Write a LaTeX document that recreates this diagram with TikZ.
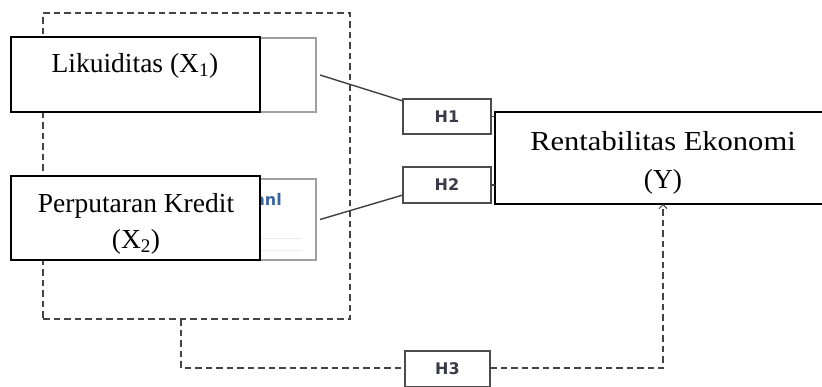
\documentclass[tikz,border=0pt]{standalone}
\usepackage{fontspec}
\setmainfont{Liberation Serif}
\newfontfamily\hfont{DejaVu Sans}
\usetikzlibrary{arrows.meta}
\definecolor{dashgray}{HTML}{444444}
\definecolor{hgray}{HTML}{3A3A48}
\definecolor{anlblue}{HTML}{3A64A0}
\begin{document}
\begin{tikzpicture}[x=1pt,y=-1pt,
  mainbox/.style={draw=black, line width=1.8pt, fill=white, inner sep=0pt, outer sep=0pt},
  ghost/.style={draw=gray!75, line width=1.1pt, fill=white, inner sep=0pt, outer sep=0pt},
  hbox/.style={draw=gray!60!black, line width=1.1pt, fill=white, inner sep=0pt, outer sep=0pt,
    minimum width=87pt, minimum height=35pt,
    font=\hfont\bfseries\fontsize{16}{18}\selectfont, text=hgray},
  grpline/.style={draw=dashgray, line width=1.7pt, dash pattern=on 6.5pt off 4pt},
  link/.style={draw=black!75, line width=1.4pt},
  lbl/.style={font=\fontsize{27.5}{33}\selectfont, inner sep=0pt, anchor=base}]
\clip (0,0) rectangle (822,386);
% dashed group
\node[grpline, minimum width=307pt, minimum height=306pt, inner sep=0pt, outer sep=0pt] (grp) at (196.5,166) {};
% ghost boxes behind
\node[ghost, minimum width=238pt, minimum height=74pt] (g1) at (197,75) {};
\node[ghost, minimum width=238pt, minimum height=81pt] (g2) at (197,219.5) {};
\draw[gray!15, line width=0.6pt] (260,238) -- (302,238);
\draw[gray!15, line width=0.6pt] (260,250) -- (302,250);
\node[anchor=base east, inner sep=0pt, text=anlblue, font=\hfont\bfseries\fontsize{16}{18}\selectfont] (anl) at (282,205) {anl};
% main boxes
\node[mainbox, minimum width=249pt, minimum height=75pt] (x1) at (135.5,74.5) {};
\node[mainbox, minimum width=249pt, minimum height=84pt] (x2) at (135.5,218) {};
\node[mainbox, minimum width=336pt, minimum height=92pt] (y) at (663,158) {};
% labels
\node[lbl] (t1) at (135,72) {Likuiditas (X\textsubscript{1})};
\node[lbl] (t2a) at (136,212) {Perputaran Kredit};
\node[lbl] (t2b) at (136,248) {(X\textsubscript{2})};
\node[lbl] (t3a) at (663,150) {\scalebox{1.11}[1]{Rentabilitas Ekonomi}};
\node[lbl] (t3b) at (663,188) {(Y)};
% hypothesis boxes
\node[hbox, minimum width=88pt] (h1) at (447,116.5) {H1};
\node[hbox, minimum width=88pt, minimum height=36pt] (h2) at (447,185) {H2};
% connectors
\draw[link] ([xshift=4pt]g1.east) -- ([yshift=-2pt]h1.north west);
\draw[link] ([xshift=4pt]g2.east) -- ([yshift=8pt]h2.south west);
\draw[link] (h1.east) -- (h1.east -| y.west);
\draw[link] (h2.east) -- (h2.east -| y.west);
% H3 path
\coordinate (c1) at (181,368);
\coordinate (c2) at (663,368);
\node[hbox, minimum width=85pt, minimum height=36pt] (h3) at (447.5,369) {H3};
\draw[grpline] (grp.south -| c1) -- (c1) -- (h3.west |- c1);
\draw[grpline, -{Straight Barb[length=4pt, width=8pt, line width=1pt]}] (h3.east |- c2) -- (c2) -- (y.south -| c2);
\end{tikzpicture}
\end{document}
